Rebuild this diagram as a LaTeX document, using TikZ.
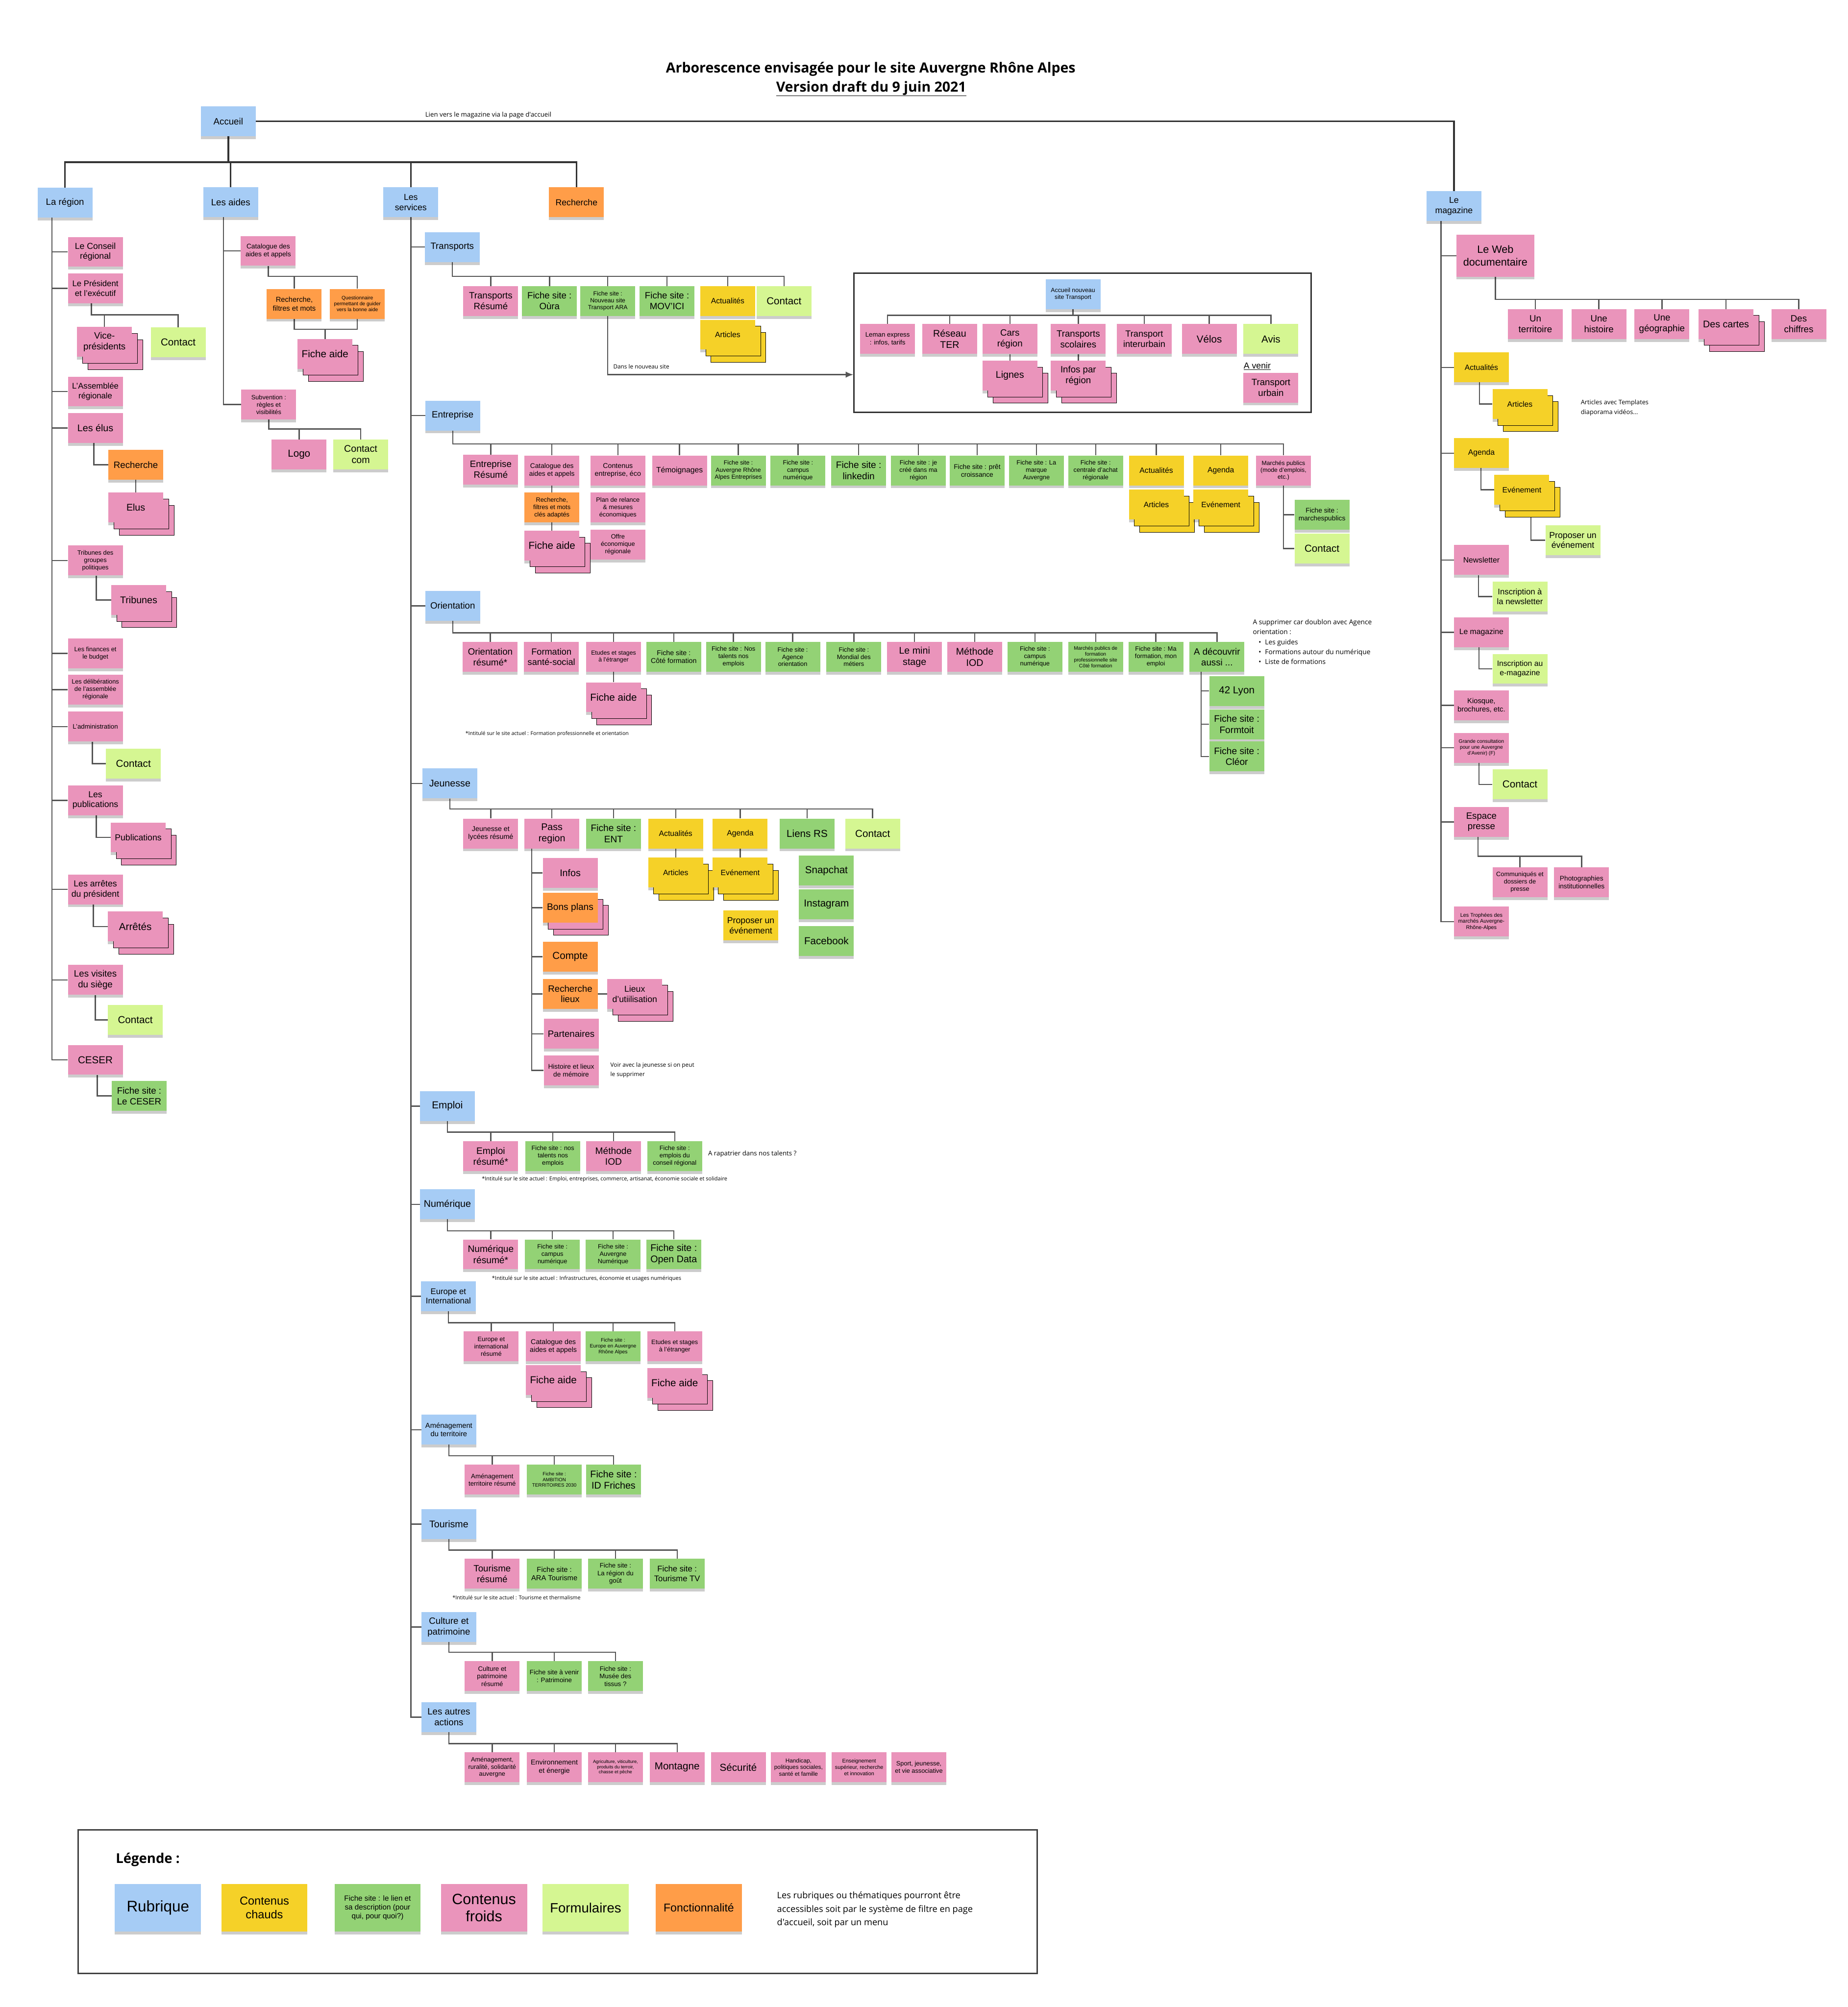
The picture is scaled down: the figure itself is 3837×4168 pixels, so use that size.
\documentclass[tikz,border=0pt]{standalone}
\usepackage{fontspec}
\setmainfont{Liberation Sans}
\newfontfamily\osans{Open Sans}
\usetikzlibrary{shadows,arrows.meta}
\pgfdeclarelayer{back}
\pgfdeclarelayer{bg}
\pgfsetlayers{back,bg,main}
\definecolor{blu}{HTML}{A6CCF5}
\definecolor{pnk}{HTML}{EA94BB}
\definecolor{grn}{HTML}{93D275}
\definecolor{lgr}{HTML}{D5F692}
\definecolor{ylw}{HTML}{F5D128}
\definecolor{org}{HTML}{FF9D48}
\definecolor{lin}{HTML}{555555}
\tikzset{
  cn/.style={draw=lin, line width=2.5pt},
  cnb/.style={draw=black!80, line width=3.5pt},
  nt/.style={rectangle, minimum width=114pt, minimum height=62pt, inner sep=2pt, align=center,
     drop shadow={shadow xshift=0pt, shadow yshift=-6pt, opacity=0.2, fill=black}},
  fs/.style={font=\fontsize{#1}{\fpeval{#1*1.17}}\selectfont},
  os/.style={font=\osans\fontsize{#1}{\fpeval{#1*1.4}}\selectfont},
  cb/.style={nt, fill=blu}, cp/.style={nt, fill=pnk}, cg/.style={nt, fill=grn},
  cl/.style={nt, fill=lgr}, cy/.style={nt, fill=ylw}, co/.style={nt, fill=org},
  stk/.style={copy shadow={shadow xshift=22pt, shadow yshift=-26pt, opacity=1, #1},
              copy shadow={shadow xshift=11pt, shadow yshift=-13pt, opacity=1, #1}},
  stk/.default={},
  lgn/.style={minimum width=179pt, minimum height=99pt},
}
\newcommand\mybus[3]{\foreach \nn in {#3}{\draw[cn] (#1.south) -- (#1.south |- 0,#2) -| (\nn.north);}}
\newcommand\mytrk[3]{\foreach \nn in {#3}{\draw[cn] (#1.south -| #2,0) |- (\nn.west);}}
\begin{document}
\begin{tikzpicture}[x=1pt,y=-1pt]
\begin{pgfonlayer}{back}
\fill[white] (0,0) rectangle (3837,4168);
\end{pgfonlayer}
\useasboundingbox (0,0) rectangle (3837,4168);

% ---------- title ----------
\node[font=\osans\bfseries\fontsize{29}{34}\selectfont] (title) at (1808,143) {Arborescence envisagée pour le site Auvergne Rhône Alpes};
\node[font=\osans\bfseries\fontsize{29}{34}\selectfont] (subtitle) at (1809,184) {\underline{Version draft du 9 juin 2021}};

% ---------- top level ----------
\node[cb,fs=19] (acc) at (474,252) {Accueil};
\node[cb,fs=19] (reg) at (135,421) {La région};
\node[cb,fs=19] (aid) at (479,420) {Les aides};
\node[cb,fs=18] (srv) at (853,420) {Les\\services};
\node[co,fs=18] (rch) at (1197,420) {Recherche};
\node[cb,fs=18] (mag) at (3019,428) {Le\\magazine};
\node[os=13.5] (lienlbl) at (1014,239) {Lien vers le magazine via la page d'accueil};

% ---------- La région ----------
\node[cp,fs=18] (r1) at (198,523) {Le Conseil\\régional};
\node[cp,fs=17] (r2) at (198,599) {Le Président\\et l'exécutif};
\node[cp,stk,fs=19] (r2a) at (217,710) {Vice-\\présidents};
\node[cl,fs=21] (r2b) at (370,711) {Contact};
\node[cp,fs=17] (r3) at (198,813) {L'Assemblée\\régionale};
\node[cp,fs=20] (r4) at (198,889) {Les élus};
\node[co,fs=19] (r4a) at (282,965) {Recherche};
\node[cp,stk,fs=20] (r4b) at (282,1054) {Elus};
\node[cp,fs=13] (r5) at (198,1164) {Tribunes des\\groupes\\politiques};
\node[cp,stk,fs=20] (r5a) at (288,1246) {Tribunes};
\node[cp,fs=13] (r6) at (198,1357) {Les finances et\\le budget};
\node[cp,fs=13] (r7) at (198,1432) {Les délibérations\\de l'assemblée\\régionale};
\node[cp,fs=13.5] (r8) at (198,1509) {L'administration};
\node[cl,fs=21] (r8a) at (277,1586) {Contact};
\node[cp,fs=18] (r9) at (198,1662) {Les\\publications};
\node[cp,stk,fs=18] (r9a) at (287,1739) {Publications};
\node[cp,fs=18] (r10) at (198,1847) {Les arrêtes\\du président};
\node[cp,stk,fs=21] (r10a) at (281,1924) {Arrêtés};
\node[cp,fs=19] (r11) at (198,2035) {Les visites\\du siège};
\node[cl,fs=21] (r11a) at (281,2118) {Contact};
\node[cp,fs=21] (r12) at (198,2201) {CESER};
\node[cg,fs=19] (r12a) at (289,2276) {Fiche site :\\Le CESER};

% ---------- Les aides ----------
\node[cp,fs=14] (a1) at (557,521) {Catalogue des\\aides et appels};
\node[co,fs=15] (a1a) at (611,631) {Recherche,\\filtres et mots};
\node[co,fs=10.5] (a1b) at (742,631) {Questionnaire\\permettant de guider\\vers la bonne aide};
\node[cp,stk,fs=21] (a1c) at (675,735) {Fiche aide};
\node[cp,fs=13] (a2) at (558,840) {Subvention :\\règles et\\visibilités};
\node[cp,fs=21] (a2a) at (621,944) {Logo};
\node[cl,fs=20] (a2b) at (749,944) {Contact\\com};

% ---------- Les services : rubriques ----------
\node[cb,fs=19] (tr) at (939,513) {Transports};
\node[cb,fs=19] (en) at (940,863) {Entreprise};
\node[cb,fs=19] (ori) at (940,1258) {Orientation};
\node[cb,fs=20] (jeu) at (934,1627) {Jeunesse};
\node[cb,fs=21] (emp) at (929,2297) {Emploi};
\node[cb,fs=20] (num) at (929,2501) {Numérique};
\node[cb,fs=17] (eur) at (931,2692) {Europe et\\International};
\node[cb,fs=15] (ame) at (932,2969) {Aménagement\\du territoire};
\node[cb,fs=20] (tou) at (932,3165) {Tourisme};
\node[cb,fs=19] (cul) at (932,3379) {Culture et\\patrimoine};
\node[cb,fs=19] (aut) at (932,3566) {Les autres\\actions};

% ---------- Transports ----------
\node[cp,fs=19] (t1) at (1019,625) {Transports\\Résumé};
\node[cg,fs=19] (t2) at (1141,625) {Fiche site :\\Oùra};
\node[cg,fs=12.5] (t3) at (1262,625) {Fiche site :\\Nouveau site\\Transport ARA};
\node[cg,fs=19] (t4) at (1385,625) {Fiche site :\\MOV'ICI};
\node[cy,fs=16] (t5) at (1511,625) {Actualités};
\node[cl,fs=21] (t6) at (1628,625) {Contact};
\node[cy,stk,fs=16] (t5a) at (1511,695) {Articles};
\node[os=12] (dansnouv) at (1270,761) [anchor=west] {Dans le nouveau site};

\node[draw=black!80, line width=3pt, minimum width=949pt, minimum height=289pt] (tbox) at (2248,712) {};
\node[cb,fs=12.5] (tn) at (2228,611) {Accueil nouveau\\site Transport};
\node[cp,fs=13.5] (tn1) at (1843,704) {Leman express\\: infos, tarifs};
\node[cp,fs=20] (tn2) at (1972,704) {Réseau\\TER};
\node[cp,fs=19] (tn3) at (2097,704) {Cars\\région};
\node[cp,fs=19] (tn4) at (2239,704) {Transports\\scolaires};
\node[cp,fs=18.5] (tn5) at (2376,704) {Transport\\interurbain};
\node[cp,fs=21] (tn6) at (2511,704) {Vélos};
\node[cl,fs=21] (tn7) at (2639,704) {Avis};
\node[cp,stk,fs=20] (tn3a) at (2097,780) {Lignes};
\node[cp,stk,fs=19] (tn4a) at (2239,780) {Infos par\\région};
\node[fs=18, anchor=west] (avenir) at (2579,760) {\underline{A venir}};
\node[cp,fs=19] (tn8) at (2639,805) {Transport\\urbain};

% ---------- Entreprise ----------
\node[cp,fs=19] (e1) at (1019,975) {Entreprise\\Résumé};
\node[cp,fs=14] (e2) at (1146,977) {Catalogue des\\aides et appels};
\node[cp,fs=14.5] (e3) at (1283,977) {Contenus\\entreprise, éco};
\node[cp,fs=16] (e4) at (1411,977) {Témoignages};
\node[cg,fs=12.5] (e5) at (1533,977) {Fiche site :\\Auvergne Rhône\\Alpes Entreprises};
\node[cg,fs=13] (e6) at (1657,977) {Fiche site :\\campus\\numérique};
\node[cg,fs=19.5] (e7) at (1783,977) {Fiche site :\\linkedin};
\node[cg,fs=13] (e8) at (1907,977) {Fiche site : je\\créé dans ma\\région};
\node[cg,fs=14] (e9) at (2029,977) {Fiche site : prêt\\croissance};
\node[cg,fs=13] (e10) at (2152,977) {Fiche site : La\\marque\\Auvergne};
\node[cg,fs=13] (e11) at (2275,977) {Fiche site :\\centrale d'achat\\régionale};
\node[cy,fs=16] (e12) at (2401,977) {Actualités};
\node[cy,fs=16] (e13) at (2535,977) {Agenda};
\node[cp,fs=12.5] (e14) at (2665,977) {Marchés publics\\(mode d'emplois,\\etc.)};
\node[co,fs=13] (e2a) at (1146,1054) {Recherche,\\filtres et mots\\clés adaptés};
\node[cp,stk,fs=21] (e2b) at (1146,1133) {Fiche aide};
\node[cp,fs=13] (e3a) at (1283,1054) {Plan de relance\\\& mesures\\économiques};
\node[cp,fs=13] (e3b) at (1283,1131) {Offre\\économique\\régionale};
\node[cy,stk,fs=16] (e12a) at (2401,1048) {Articles};
\node[cy,stk,fs=16] (e13a) at (2535,1048) {Evénement};
\node[cg,fs=14] (e14a) at (2745,1069) {Fiche site :\\marchespublics};
\node[cl,fs=21] (e14b) at (2745,1139) {Contact};

% ---------- Orientation ----------
\node[cp,fs=19] (o1) at (1018,1364) {Orientation\\résumé*};
\node[cp,fs=18.5] (o2) at (1145,1364) {Formation\\santé-social};
\node[cp,fs=12.5] (o3) at (1274,1364) {Etudes et stages\\à l'étranger};
\node[cg,fs=14.5] (o4) at (1399,1364) {Fiche site :\\Côté formation};
\node[cg,fs=13] (o5) at (1523,1364) {Fiche site : Nos\\talents nos\\emplois};
\node[cg,fs=13] (o6) at (1646,1364) {Fiche site :\\Agence\\orientation};
\node[cg,fs=13] (o7) at (1773,1364) {Fiche site :\\Mondial des\\métiers};
\node[cp,fs=20] (o8) at (1899,1364) {Le mini\\stage};
\node[cp,fs=20] (o9) at (2024,1364) {Méthode\\IOD};
\node[cg,fs=13] (o10) at (2149,1364) {Fiche site :\\campus\\numérique};
\node[cg,fs=10.5] (o11) at (2275,1364) {Marchés publics de\\formation\\professionnelle site\\Côté formation};
\node[cg,fs=13] (o12) at (2400,1364) {Fiche site : Ma\\formation, mon\\emploi};
\node[cg,fs=19] (o13) at (2527,1364) {A découvrir\\aussi ...};
\node[cp,stk,fs=21] (o3a) at (1274,1448) {Fiche aide};
\node[cg,fs=21] (o13a) at (2568,1435) {42 Lyon};
\node[cg,fs=19.5] (o13b) at (2568,1504) {Fiche site :\\Formtoit};
\node[cg,fs=19.5] (o13c) at (2568,1571) {Fiche site :\\Cléor};
\node[os=10.8, anchor=west] (fnori) at (963,1524) {*Intitulé sur le site actuel : Formation professionnelle et orientation};
\node[anchor=north west, align=left, font=\osans\fontsize{14}{20.5}\selectfont] (nsup) at (2598,1283)
  {A supprimer car doublon avec Agence\\orientation :\\\hspace*{12pt}•\hspace{8pt}Les guides\\\hspace*{12pt}•\hspace{8pt}Formations autour du numérique\\\hspace*{12pt}•\hspace{8pt}Liste de formations};

% ---------- Jeunesse ----------
\node[cp,fs=14.5] (j1) at (1019,1731) {Jeunesse et\\lycées résumé};
\node[cp,fs=20] (j2) at (1146,1731) {Pass\\region};
\node[cg,fs=19.5] (j3) at (1274,1731) {Fiche site :\\ENT};
\node[cy,fs=16] (j4) at (1403,1731) {Actualités};
\node[cy,fs=16] (j5) at (1537,1731) {Agenda};
\node[cg,fs=21] (j6) at (1676,1731) {Liens RS};
\node[cl,fs=21] (j7) at (1812,1731) {Contact};
\node[cp,fs=20] (j2a) at (1184,1813) {Infos};
\node[co,stk={fill=pnk},fs=19.5] (j2b) at (1184,1885) {Bons plans};
\node[co,fs=21] (j2c) at (1184,1987) {Compte};
\node[co,fs=19] (j2d) at (1184,2064) {Recherche\\lieux};
\node[cp,fs=19] (j2e) at (1186,2147) {Partenaires};
\node[cp,fs=14] (j2f) at (1186,2223) {Histoire et lieux\\de mémoire};
\node[cp,stk,fs=18] (j2d1) at (1318,2064) {Lieux\\d'utiilisation};
\node[cy,stk,fs=16] (j4a) at (1403,1812) {Articles};
\node[cy,stk,fs=16] (j5a) at (1537,1812) {Evénement};
\node[cy,fs=18] (j5b) at (1559,1922) {Proposer un\\événement};
\node[cg,fs=21] (j6a) at (1716,1808) {Snapchat};
\node[cg,fs=21] (j6b) at (1716,1878) {Instagram};
\node[cg,fs=21] (j6c) at (1716,1954) {Facebook};
\node[anchor=west, align=left, font=\osans\fontsize{12}{19}\selectfont] (njeu) at (1264,2222) {Voir avec la jeunesse si on peut\\le supprimer};

% ---------- Emploi ----------
\node[cp,fs=19.5] (em1) at (1019,2401) {Emploi\\résumé*};
\node[cg,fs=13] (em2) at (1148,2401) {Fiche site : nos\\talents nos\\emplois};
\node[cp,fs=19.5] (em3) at (1274,2401) {Méthode\\IOD};
\node[cg,fs=13] (em4) at (1401,2401) {Fiche site :\\emplois du\\conseil régional};
\node[os=13.5, anchor=west] (nemp) at (1467,2396) {A rapatrier dans nos talents ?};
\node[os=11.2, anchor=west] (fnemp) at (997,2449) {*Intitulé sur le site actuel : Emploi, entreprises, commerce, artisanat, économie sociale et solidaire};

% ---------- Numérique ----------
\node[cp,fs=19.5] (nu1) at (1019,2605) {Numérique\\résumé*};
\node[cg,fs=13] (nu2) at (1147,2605) {Fiche site :\\campus\\numérique};
\node[cg,fs=13] (nu3) at (1273,2605) {Fiche site :\\Auvergne\\Numérique};
\node[cg,fs=20] (nu4) at (1399,2605) {Fiche site :\\Open Data};
\node[os=11.2, anchor=west] (fnnum) at (1018,2655) {*Intitulé sur le site actuel : Infrastructures, économie et usages numériques};

% ---------- Europe ----------
\node[cp,fs=13] (eu1) at (1020,2796) {Europe et\\international\\résumé};
\node[cp,fs=14.5] (eu2) at (1149,2796) {Catalogue des\\aides et appels};
\node[cg,fs=10.5] (eu3) at (1273,2796) {Fiche site :\\Europe en Auvergne\\Rhône Alpes};
\node[cp,fs=13] (eu4) at (1401,2796) {Etudes et stages\\à l'étranger};
\node[cp,stk,fs=21] (eu2a) at (1149,2866) {Fiche aide};
\node[cp,stk,fs=21] (eu4a) at (1401,2872) {Fiche aide};

% ---------- Aménagement ----------
\node[cp,fs=13.5] (am1) at (1022,3073) {Aménagement\\territoire résumé};
\node[cg,fs=10] (am2) at (1151,3073) {Fiche site :\\AMBITION\\TERRITOIRES 2030};
\node[cg,fs=20] (am3) at (1274,3073) {Fiche site :\\ID Friches};

% ---------- Tourisme ----------
\node[cp,fs=19] (to1) at (1022,3268) {Tourisme\\résumé};
\node[cg,fs=15] (to2) at (1151,3268) {Fiche site :\\ARA Tourisme};
\node[cg,fs=13.5] (to3) at (1278,3268) {Fiche site :\\La région du\\goût};
\node[cg,fs=17] (to4) at (1406,3268) {Fiche site :\\Tourisme TV};
\node[os=11, anchor=west] (fntou) at (936,3318) {*Intitulé sur le site actuel : Tourisme et thermalisme};

% ---------- Culture ----------
\node[cp,fs=13.5] (cu1) at (1022,3481) {Culture et\\patrimoine\\résumé};
\node[cg,fs=13.5] (cu2) at (1151,3481) {Fiche site à venir\\: Patrimoine};
\node[cg,fs=13.5] (cu3) at (1278,3481) {Fiche site :\\Musée des\\tissus ?};

% ---------- Les autres actions ----------
\node[cp,fs=13] (au1) at (1022,3670) {Aménagement,\\ruralité, solidarité\\auvergne};
\node[cp,fs=14.5] (au2) at (1151,3670) {Environnement\\et énergie};
\node[cp,fs=9.5] (au3) at (1278,3670) {Agriculture, viticulture,\\produits du terroir,\\chasse et pêche};
\node[cp,fs=21] (au4) at (1406,3670) {Montagne};
\node[cp,fs=21] (au5) at (1533,3670) {Sécurité};
\node[cp,fs=12] (au6) at (1658,3670) {Handicap,\\politiques sociales,\\santé et famille};
\node[cp,fs=11] (au7) at (1784,3670) {Enseignement\\supérieur, recherche\\et innovation};
\node[cp,fs=13] (au8) at (1908,3670) {Sport, jeunesse,\\et vie associative};

% ---------- Le magazine ----------
\node[cp,fs=22,minimum width=162pt,minimum height=87pt] (m1) at (3105,531) {Le Web\\documentaire};
\node[cp,fs=19] (m1a) at (3188,673) {Un\\territoire};
\node[cp,fs=19] (m1b) at (3320,673) {Une\\histoire};
\node[cp,fs=19] (m1c) at (3451,673) {Une\\géographie};
\node[cp,stk,fs=20] (m1d) at (3584,673) {Des cartes};
\node[cp,fs=19] (m1e) at (3735,673) {Des\\chiffres};
\node[cy,fs=16] (m2) at (3076,763) {Actualités};
\node[cy,stk,fs=16] (m2a) at (3156,839) {Articles};
\node[anchor=west, align=left, font=\osans\fontsize{13}{20}\selectfont] (nart) at (3279,847) {Articles avec Templates\\diaporama vidéos...};
\node[cy,fs=16] (m3) at (3076,941) {Agenda};
\node[cy,stk,fs=16] (m3a) at (3160,1017) {Evénement};
\node[cl,fs=18] (m3b) at (3266,1122) {Proposer un\\événement};
\node[cp,fs=16] (m4) at (3076,1163) {Newsletter};
\node[cl,fs=17] (m4a) at (3156,1239) {Inscription à\\la newsletter};
\node[cp,fs=16] (m5) at (3076,1313) {Le magazine};
\node[cl,fs=16] (m5a) at (3156,1389) {Inscription au\\e-magazine};
\node[cp,fs=15] (m6) at (3076,1465) {Kiosque,\\brochures, etc.};
\node[cp,fs=10.5] (m7) at (3076,1553) {Grande consultation\\pour une Auvergne\\d'Avenir) (F)};
\node[cl,fs=21] (m7a) at (3156,1629) {Contact};
\node[cp,fs=19] (m8) at (3076,1707) {Espace\\presse};
\node[cp,fs=13] (m8a) at (3156,1832) {Communiqués et\\dossiers de\\presse};
\node[cp,fs=14] (m8b) at (3284,1832) {Photographies\\institutionnelles};
\node[cp,fs=11] (m9) at (3076,1914) {Les Trophées des\\marchés Auvergne-\\Rhône-Alpes};

% ---------- Légende ----------
\node[draw=black!75, line width=3pt, minimum width=1992pt, minimum height=298pt] (lgbox) at (1158,3949) {};
\node[anchor=west, font=\osans\bfseries\fontsize{28}{33}\selectfont] (lgtitle) at (237,3862) {Légende :};
\node[cb,lgn,fs=32] (lg1) at (328,3962) {Rubrique};
\node[cy,lgn,fs=24] (lg2) at (549,3962) {Contenus\\chauds};
\node[cg,lgn,fs=15.5] (lg3) at (784,3962) {Fiche site : le lien et\\sa description (pour\\qui, pour quoi?)};
\node[cp,lgn,fs=31] (lg4) at (1005,3962) {Contenus\\froids};
\node[cl,lgn,fs=28] (lg5) at (1216,3962) {Formulaires};
\node[co,lgn,fs=23.5] (lg6) at (1451,3962) {Fonctionnalité};
\node[anchor=west, align=left, font=\osans\fontsize{18.5}{28}\selectfont] (lgtext) at (1610,3966) {Les rubriques ou thématiques pourront être\\accessibles soit par le système de filtre en page\\d'accueil, soit par un menu};

% ================= connectors =================
\begin{pgfonlayer}{bg}
% top
\foreach \nn in {reg,aid,srv,rch}{\draw[cnb] (acc.south) -- (acc.south |- 0,337) -| (\nn.north);}
\draw[cnb] (acc.east) -| (mag.north);
% La région
\mytrk{reg}{108}{r1,r2,r3,r4,r5,r6,r7,r8,r9,r10,r11,r12}
\draw[cn] (r2.south -| 190,0) |- (r2b.north |- 0,654) -- (r2b.north);
\draw[cn] (r2a.north |- 0,654) -- (r2a.north);
\draw[cn] (r4.south -| 195,0) |- (r4a.west);
\draw[cn] (r4a.south) -- (r4b.north);
\draw[cn] (r5.south -| 200,0) |- (r5a.west);
\draw[cn] (r8.south -| 192,0) |- (r8a.west);
\draw[cn] (r9.south -| 200,0) |- (r9a.west);
\draw[cn] (r10.south -| 194,0) |- (r10a.west);
\draw[cn] (r11.south -| 198,0) |- (r11a.west);
\draw[cn] (r12.south -| 202,0) |- (r12a.west);
% Les aides
\mytrk{aid}{464}{a1,a2}
\mybus{a1}{574}{a1a,a1b}
\draw[cn] (a1a.south) -- (a1a.south |- 0,684) -| (a1b.south);
\draw[cn] (a1c.north |- 0,684) -- (a1c.north);
\mybus{a2}{891}{a2a,a2b}
% Les services
\mytrk{srv}{853}{tr,en,ori,jeu,emp,num,eur,ame,tou,cul,aut}
% Transports
\mybus{tr}{574}{t1,t2,t3,t4,t5,t6}
\draw[cn,-{Latex[length=16pt,width=13pt]}] (t3.south) |- (tbox.west |- 0,778);
\mybus{tn}{655}{tn1,tn2,tn3,tn4,tn5,tn6,tn7}
\draw[cn] (tn3.south) -- (tn3a.north);
\draw[cn] (tn4.south) -- (tn4a.north);
% Entreprise
\mybus{en}{922}{e1,e2,e3,e4,e5,e6,e7,e8,e9,e10,e11,e12,e13,e14}
\draw[cn] (e2.south) -- (e2a.north);
\draw[cn] (e2a.south) -- (e2b.north);
\draw[cn] (e14.south) |- (e14a.west);
\draw[cn] (e14.south) |- (e14b.west);
% Orientation
\mybus{ori}{1314}{o1,o2,o3,o4,o5,o6,o7,o8,o9,o10,o11,o12,o13}
\draw[cn] (o3.south) -- (o3a.north);
\mytrk{o13}{2494}{o13a,o13b,o13c}
% Jeunesse
\mybus{jeu}{1680}{j1,j2,j3,j4,j5,j6,j7}
\mytrk{j2}{1104}{j2a,j2b,j2c,j2d,j2e,j2f}
\draw[cn] (j2d.east) -- (j2d1.west);
\draw[cn] (j4.south) -- (j4a.north);
\draw[cn] (j5.south) -- (j5a.north);
% Emploi, Numérique, Europe
\mybus{emp}{2351}{em1,em2,em3,em4}
\mybus{num}{2556}{nu1,nu2,nu3,nu4}
\mybus{eur}{2747}{eu1,eu2,eu3,eu4}
% Aménagement, Tourisme, Culture, Autres
\mybus{ame}{3023}{am1,am2,am3}
\mybus{tou}{3219}{to1,to2,to3,to4}
\mybus{cul}{3431}{cu1,cu2,cu3}
\mybus{aut}{3621}{au1,au2,au3,au4}
% Le magazine
\mytrk{mag}{2992}{m1,m2,m3,m4,m5,m6,m7,m8,m9}
\mybus{m1}{622}{m1a,m1b,m1c,m1d,m1e}
\draw[cn] (m2.south -| 3072,0) |- (m2a.west);
\draw[cn] (m3.south -| 3075,0) |- (m3a.west);
\draw[cn] (m3a.south -| 3179,0) |- (m3b.west);
\draw[cn] (m4.south -| 3070,0) |- (m4a.west);
\draw[cn] (m5.south -| 3071,0) |- (m5a.west);
\draw[cn] (m7.south -| 3071,0) |- (m7a.west);
\draw[cn] (m8.south -| 3069,0) |- (m8b.north |- 0,1778) -- (m8b.north);
\draw[cn] (m8a.north |- 0,1778) -- (m8a.north);
\end{pgfonlayer}
\end{tikzpicture}
\end{document}
